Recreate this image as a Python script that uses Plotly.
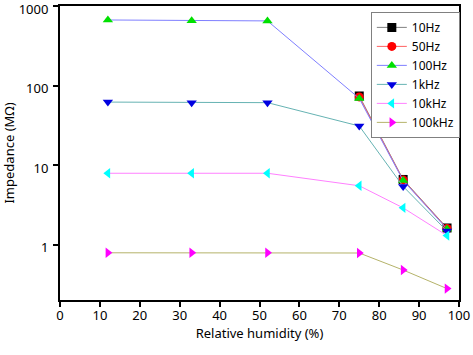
import plotly.graph_objects as go

humidity = [12, 33, 52, 75, 86, 97]
z_10Hz = [None, None, None, 74, 6.6, 1.62]
z_50Hz = [None, None, None, 72, 6.5, 1.6]
z_100Hz = [668, 655, 650, 69, 6.4, 1.57]
z_1kHz = [62, 61, 61, 31, 5.4, 1.48]
z_10kHz = [7.9, 7.9, 7.9, 5.5, 2.9, 1.3]
z_100kHz = [0.79, 0.79, 0.79, 0.785, 0.48, 0.28]

series = [
    ("10Hz", z_10Hz, "#808080", "square", "black"),
    ("50Hz", z_50Hz, "#ff6060", "circle", "red"),
    ("100Hz", z_100Hz, "#7f7fff", "triangle-up", "#00e000"),
    ("1kHz", z_1kHz, "#66b3b3", "triangle-down", "#0000e0"),
    ("10kHz", z_10kHz, "#ff80ff", "triangle-left", "#00ffff"),
    ("100kHz", z_100kHz, "#b5b36a", "triangle-right", "#ff00ff"),
]

x_ticks = list(range(0, 101, 10))
y_ticks = [1, 10, 100, 1000]
y_ticklabels = ["1", "10", "100", "1000"]

fig = go.Figure()
for name, vals, lc, sym, mc in series:
    fig.add_trace(go.Scatter(
        x=humidity, y=vals, name=name, mode="lines+markers",
        line=dict(color=lc, width=1),
        marker=dict(symbol=sym, color=mc, size=9, line=dict(width=0)),
    ))

font = "Noto Sans"
fig.update_layout(
    width=473, height=355,
    margin=dict(l=60, r=14, t=6, b=55),
    paper_bgcolor="white", plot_bgcolor="white",
    font=dict(family=font, size=13, color="black"),
    showlegend=True,
    legend=dict(
        x=0.779, y=0.98, xanchor="left", yanchor="top",
        bordercolor="#808080", borderwidth=1, bgcolor="white",
        font=dict(size=12), tracegroupgap=0, itemwidth=30,
    ),
    xaxis=dict(
        range=[0, 100], tickvals=x_ticks, showgrid=False, zeroline=False,
        showline=True, linecolor="black", linewidth=2, mirror=True,
        ticks="outside", ticklen=5, tickwidth=2, tickcolor="black",
        title=dict(text="Relative humidity (%)", font=dict(size=13), standoff=6),
        tickfont=dict(size=13), automargin=False, ticklabeloverflow="allow",
        ticklabelstandoff=-3,
    ),
    yaxis=dict(
        type="log", range=[-0.696, 3.0005], tickvals=y_ticks, ticktext=y_ticklabels,
        showgrid=False, zeroline=False,
        showline=True, linecolor="black", linewidth=2, mirror=True,
        ticks="outside", ticklen=5, tickwidth=2, tickcolor="black",
        title=dict(text="Impedance (MΩ)", font=dict(size=13), standoff=6),
        tickfont=dict(size=13), automargin=False, ticklabeloverflow="allow",
        ticklabelstandoff=2, ticklabelshift=3,
    ),
)
fig.write_html(
    "out.html",
    config={"displayModeBar": False},
    post_script="document.body.style.margin='0';document.body.style.overflow='hidden';",
)
